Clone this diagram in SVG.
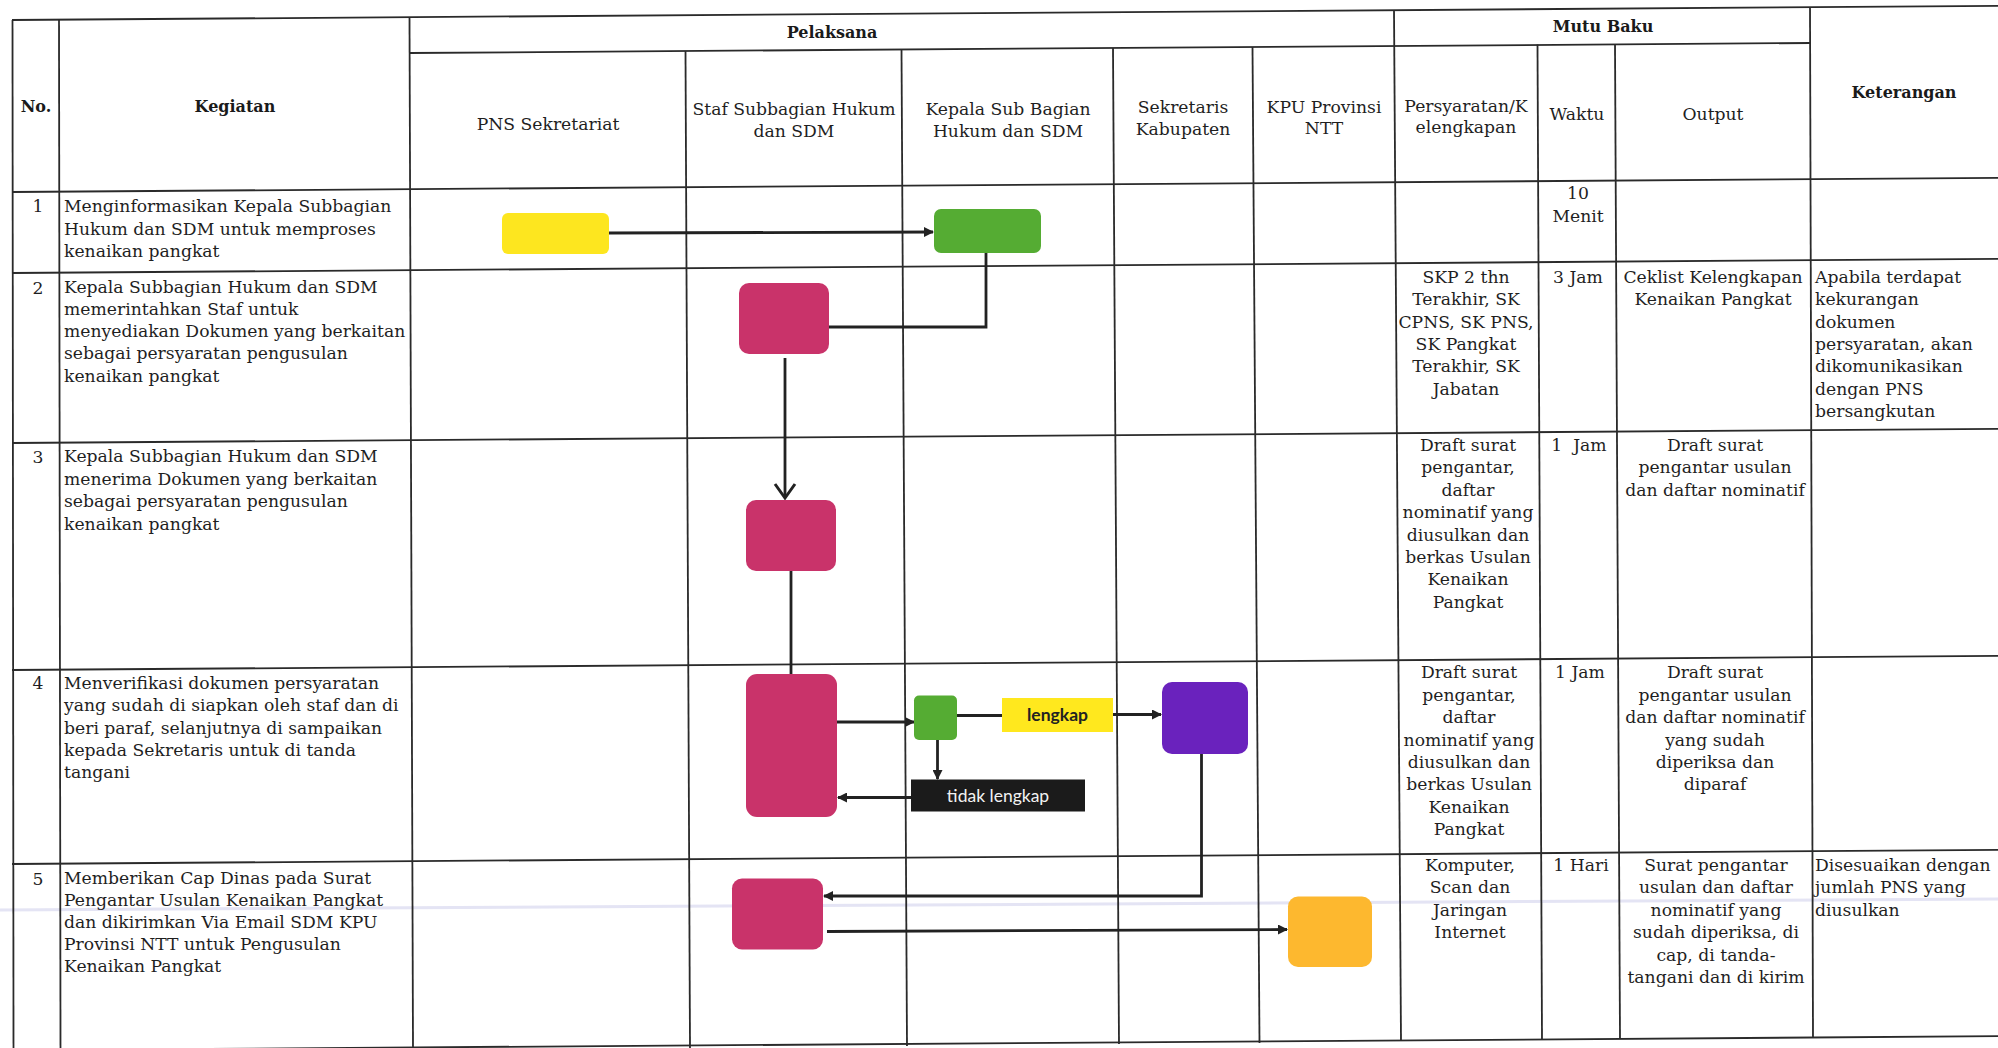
<svg xmlns="http://www.w3.org/2000/svg" width="1998" height="1048" viewBox="0 0 1998 1048">
<style>
.t{font-family:"DejaVu Serif","Liberation Serif",serif;font-size:17.2px;fill:#1f1f1f}
.h{font-family:"DejaVu Serif","Liberation Serif",serif;font-size:16px;font-weight:bold;fill:#1a1a1a}
.c{text-anchor:middle}
.g line{stroke:#2a2a2a;stroke-width:1.8}
.cn{fill:none;stroke:#222;stroke-width:2.8}
.lab{font-family:Lato,"Open Sans","Liberation Sans",sans-serif;font-size:17.5px}
</style>
<defs>
<marker id="ah" viewBox="0 0 10 10" refX="9" refY="5" markerWidth="10" markerHeight="10" markerUnits="userSpaceOnUse" orient="auto">
<path d="M0,0 L10,5 L0,10 z" fill="#222"/>
</marker>
</defs>
<rect width="1998" height="1048" fill="#fff"/>
<line x1="0" y1="910" x2="1998" y2="899" stroke="#d9d9f0" stroke-width="3" opacity="0.7"/>
<g class="g" id="grid">
<line x1="12" y1="20" x2="1998" y2="5.9"/>
<line x1="410" y1="53" x2="1810" y2="43"/>
<line x1="12" y1="192" x2="1998" y2="177.9"/>
<line x1="12" y1="273" x2="1998" y2="258.9"/>
<line x1="12" y1="443" x2="1998" y2="428.9"/>
<line x1="12" y1="670" x2="1998" y2="655.9"/>
<line x1="12" y1="864" x2="1998" y2="849.9"/>
<line x1="12" y1="1050.3" x2="1998" y2="1036.2"/>
<line x1="12.5" y1="20" x2="13.5" y2="1048"/>
<line x1="59" y1="19.7" x2="60.5" y2="1048"/>
<line x1="409.5" y1="17.2" x2="413" y2="1048"/>
<line x1="685.5" y1="51" x2="690" y2="1048"/>
<line x1="901.5" y1="49.5" x2="907" y2="1046"/>
<line x1="1113" y1="48" x2="1119" y2="1044"/>
<line x1="1252.5" y1="47" x2="1259.5" y2="1043"/>
<line x1="1394" y1="10.2" x2="1401" y2="1041"/>
<line x1="1537.5" y1="44.6" x2="1542" y2="1039.5"/>
<line x1="1615" y1="44" x2="1620" y2="1039"/>
<line x1="1810" y1="7.3" x2="1813" y2="1038"/>
</g>
<g id="header">
<text class="h c" x="36" y="112">No.</text>
<text class="h c" x="235" y="112">Kegiatan</text>
<text class="h c" x="832" y="38">Pelaksana</text>
<text class="h c" x="1603" y="32">Mutu Baku</text>
<text class="h c" x="1904" y="98">Keterangan</text>
<text class="t c" x="548" y="130">PNS Sekretariat</text>
<text class="t c" x="794" y="115">Staf Subbagian Hukum</text>
<text class="t c" x="794" y="137">dan SDM</text>
<text class="t c" x="1008" y="115">Kepala Sub Bagian</text>
<text class="t c" x="1008" y="137">Hukum dan SDM</text>
<text class="t c" x="1183" y="113">Sekretaris</text>
<text class="t c" x="1183" y="135">Kabupaten</text>
<text class="t c" x="1324" y="113">KPU Provinsi</text>
<text class="t c" x="1324" y="134">NTT</text>
<text class="t c" x="1466" y="112">Persyaratan/K</text>
<text class="t c" x="1466" y="133">elengkapan</text>
<text class="t c" x="1577" y="120">Waktu</text>
<text class="t c" x="1713" y="120">Output</text>
</g>
<g id="row1">
<text class="t c" x="38" y="212">1</text>
<text class="t" x="64" y="212">Menginformasikan Kepala Subbagian</text>
<text class="t" x="64" y="234.5">Hukum dan SDM untuk memproses</text>
<text class="t" x="64" y="257">kenaikan pangkat</text>
<text class="t c" x="1578" y="199">10</text>
<text class="t c" x="1578" y="221.5">Menit</text>
</g>
<g id="row2">
<text class="t c" x="38" y="294">2</text>
<text class="t" x="64" y="293">Kepala Subbagian Hukum dan SDM</text>
<text class="t" x="64" y="315">memerintahkan Staf untuk</text>
<text class="t" x="64" y="337.3">menyediakan Dokumen yang berkaitan</text>
<text class="t" x="64" y="359.3">sebagai persyaratan pengusulan</text>
<text class="t" x="64" y="381.5">kenaikan pangkat</text>
<text class="t c" x="1466" y="283">SKP 2 thn</text>
<text class="t c" x="1466" y="305.3">Terakhir, SK</text>
<text class="t c" x="1466" y="327.6">CPNS, SK PNS,</text>
<text class="t c" x="1466" y="350">SK Pangkat</text>
<text class="t c" x="1466" y="372.4">Terakhir, SK</text>
<text class="t c" x="1466" y="394.8">Jabatan</text>
<text class="t c" x="1578" y="283">3 Jam</text>
<text class="t c" x="1713" y="283">Ceklist Kelengkapan</text>
<text class="t c" x="1713" y="305.3">Kenaikan Pangkat</text>
<text class="t" x="1815" y="283">Apabila terdapat</text>
<text class="t" x="1815" y="305.3">kekurangan</text>
<text class="t" x="1815" y="327.6">dokumen</text>
<text class="t" x="1815" y="350">persyaratan, akan</text>
<text class="t" x="1815" y="372.4">dikomunikasikan</text>
<text class="t" x="1815" y="394.8">dengan PNS</text>
<text class="t" x="1815" y="417">bersangkutan</text>
</g>
<g id="row3">
<text class="t c" x="38" y="463">3</text>
<text class="t" x="64" y="462">Kepala Subbagian Hukum dan SDM</text>
<text class="t" x="64" y="484.7">menerima Dokumen yang berkaitan</text>
<text class="t" x="64" y="507.3">sebagai persyaratan pengusulan</text>
<text class="t" x="64" y="530">kenaikan pangkat</text>
<text class="t c" x="1468" y="451">Draft surat</text>
<text class="t c" x="1468" y="473.4">pengantar,</text>
<text class="t c" x="1468" y="495.8">daftar</text>
<text class="t c" x="1468" y="518.2">nominatif yang</text>
<text class="t c" x="1468" y="540.6">diusulkan dan</text>
<text class="t c" x="1468" y="563">berkas Usulan</text>
<text class="t c" x="1468" y="585.4">Kenaikan</text>
<text class="t c" x="1468" y="607.8">Pangkat</text>
<text class="t c" x="1579" y="451" style="white-space:pre">1  Jam</text>
<text class="t c" x="1715" y="451">Draft surat</text>
<text class="t c" x="1715" y="473.4">pengantar usulan</text>
<text class="t c" x="1715" y="495.8">dan daftar nominatif</text>
</g>
<g id="row4">
<text class="t c" x="38" y="689">4</text>
<text class="t" x="64" y="688.5">Menverifikasi dokumen persyaratan</text>
<text class="t" x="64" y="711">yang sudah di siapkan oleh staf dan di</text>
<text class="t" x="64" y="733.5">beri paraf, selanjutnya di sampaikan</text>
<text class="t" x="64" y="756">kepada Sekretaris untuk di tanda</text>
<text class="t" x="64" y="778">tangani</text>
<text class="t c" x="1469" y="678.3">Draft surat</text>
<text class="t c" x="1469" y="700.7">pengantar,</text>
<text class="t c" x="1469" y="723.1">daftar</text>
<text class="t c" x="1469" y="745.5">nominatif yang</text>
<text class="t c" x="1469" y="767.9">diusulkan dan</text>
<text class="t c" x="1469" y="790.3">berkas Usulan</text>
<text class="t c" x="1469" y="812.7">Kenaikan</text>
<text class="t c" x="1469" y="835.1">Pangkat</text>
<text class="t c" x="1580" y="678.3">1 Jam</text>
<text class="t c" x="1715" y="678.3">Draft surat</text>
<text class="t c" x="1715" y="700.7">pengantar usulan</text>
<text class="t c" x="1715" y="723.1">dan daftar nominatif</text>
<text class="t c" x="1715" y="745.5">yang sudah</text>
<text class="t c" x="1715" y="767.9">diperiksa dan</text>
<text class="t c" x="1715" y="790.3">diparaf</text>
</g>
<g id="row5">
<text class="t c" x="38" y="885">5</text>
<text class="t" x="64" y="884">Memberikan Cap Dinas pada Surat</text>
<text class="t" x="64" y="906">Pengantar Usulan Kenaikan Pangkat</text>
<text class="t" x="64" y="928">dan dikirimkan Via Email SDM KPU</text>
<text class="t" x="64" y="950">Provinsi NTT untuk Pengusulan</text>
<text class="t" x="64" y="972">Kenaikan Pangkat</text>
<text class="t c" x="1470" y="870.5">Komputer,</text>
<text class="t c" x="1470" y="893">Scan dan</text>
<text class="t c" x="1470" y="915.5">Jaringan</text>
<text class="t c" x="1470" y="938">Internet</text>
<text class="t c" x="1581" y="870.5">1 Hari</text>
<text class="t c" x="1716" y="870.5">Surat pengantar</text>
<text class="t c" x="1716" y="893">usulan dan daftar</text>
<text class="t c" x="1716" y="915.5">nominatif yang</text>
<text class="t c" x="1716" y="938">sudah diperiksa, di</text>
<text class="t c" x="1716" y="960.5">cap, di tanda-</text>
<text class="t c" x="1716" y="983">tangani dan di kirim</text>
<text class="t" x="1815" y="870.5">Disesuaikan dengan</text>
<text class="t" x="1815" y="893">jumlah PNS yang</text>
<text class="t" x="1815" y="915.5">diusulkan</text>
</g>
<g id="connectors">
<line class="cn" x1="609" y1="233" x2="933" y2="232" marker-end="url(#ah)"/>
<path class="cn" d="M986,253 V327 H829"/>
<path class="cn" d="M785,358 V497"/>
<path d="M775,484 L785,498 L795,484" fill="none" stroke="#222" stroke-width="3"/>
<line class="cn" x1="791" y1="571" x2="791" y2="674"/>
<line class="cn" x1="837" y1="722" x2="914" y2="722" marker-end="url(#ah)"/>
<line class="cn" x1="957" y1="715.5" x2="1002" y2="715.5" stroke-width="3.2"/>
<line class="cn" x1="1113" y1="714.5" x2="1161" y2="714.5" marker-end="url(#ah)"/>
<line class="cn" x1="937.5" y1="740" x2="937.5" y2="779" marker-end="url(#ah)"/>
<line class="cn" x1="911" y1="797.5" x2="838" y2="797.5" marker-end="url(#ah)"/>
<path class="cn" d="M1201.5,754 V896 H824" marker-end="url(#ah)"/>
<line class="cn" x1="827" y1="931.5" x2="1287" y2="929.5" marker-end="url(#ah)"/>
</g>
<g id="n1"><rect x="502" y="213" width="107" height="41" rx="6" fill="#fde61f"/></g>
<g id="n2"><rect x="934" y="209" width="107" height="44" rx="7" fill="#55ac33"/></g>
<g id="n3"><rect x="739" y="283" width="90" height="71" rx="10" fill="#c9336a"/></g>
<g id="n4"><rect x="746" y="500" width="90" height="71" rx="10" fill="#c9336a"/></g>
<g id="n5"><rect x="746" y="674" width="91" height="143" rx="11" fill="#c9336a"/></g>
<g id="n6"><rect x="914" y="695.5" width="43" height="44.5" rx="5" fill="#55ac33"/></g>
<g id="n7"><rect x="1002" y="698" width="111" height="34" fill="#ffe81e"/><text class="lab c" x="1057.5" y="721" font-weight="bold" fill="#222">lengkap</text></g>
<g id="n8"><rect x="1162" y="682" width="86" height="72" rx="10" fill="#6a22bd"/></g>
<g id="n9"><rect x="911" y="779.5" width="174" height="32" fill="#1b1b1b"/><text class="lab c" x="998" y="801.5" fill="#f2f2f2">tidak lengkap</text></g>
<g id="n10"><rect x="732" y="878.5" width="91" height="71" rx="10" fill="#c9336a"/></g>
<g id="n11"><rect x="1288" y="896.5" width="84" height="70.5" rx="10" fill="#fdb82f"/></g>
</svg>
